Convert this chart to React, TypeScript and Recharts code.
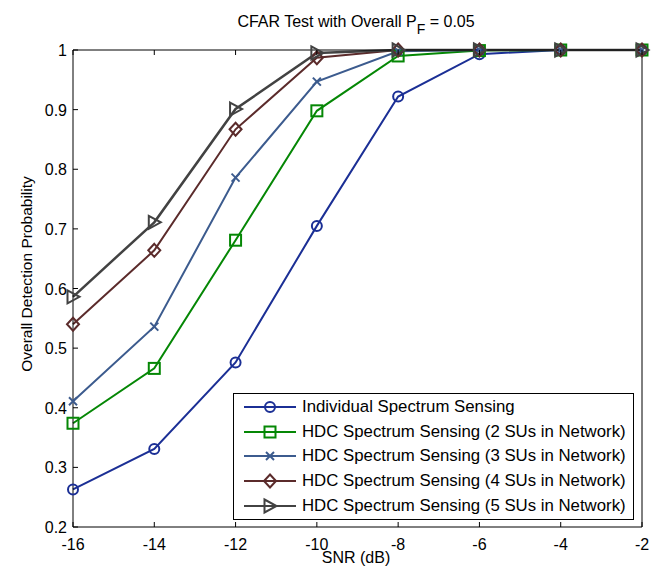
import React from "react";
import { LineChart, Line, XAxis, YAxis } from "recharts";

const snr = [-16, -14, -12, -10, -8, -6, -4, -2];
const individual = [0.263, 0.331, 0.476, 0.705, 0.922, 0.993, 1.0, 1.0];
const hdc2 = [0.374, 0.466, 0.681, 0.898, 0.99, 0.999, 1.0, 1.0];
const hdc3 = [0.411, 0.536, 0.786, 0.947, 0.998, 1.0, 1.0, 1.0];
const hdc4 = [0.54, 0.664, 0.867, 0.987, 1.0, 1.0, 1.0, 1.0];
const hdc5 = [0.586, 0.711, 0.901, 0.995, 1.0, 1.0, 1.0, 1.0];
const yTicks = [0.2, 0.3, 0.4, 0.5, 0.6, 0.7, 0.8, 0.9, 1.0];

const seriesNames = [
  "Individual Spectrum Sensing",
  "HDC Spectrum Sensing (2 SUs in Network)",
  "HDC Spectrum Sensing (3 SUs in Network)",
  "HDC Spectrum Sensing (4 SUs in Network)",
  "HDC Spectrum Sensing (5 SUs in Network)",
];

const data = snr.map((s, i) => ({
  snr: s,
  s1: individual[i],
  s2: hdc2[i],
  s3: hdc3[i],
  s4: hdc4[i],
  s5: hdc5[i],
}));

type Shape = "circle" | "square" | "cross" | "diamond" | "triangle";

const series: { key: string; color: string; shape: Shape; name: string; width: number }[] = [
  { key: "s1", color: "#1b2f95", shape: "circle", name: seriesNames[0], width: 2 },
  { key: "s2", color: "#058705", shape: "square", name: seriesNames[1], width: 2 },
  { key: "s3", color: "#3c5b8e", shape: "cross", name: seriesNames[2], width: 2 },
  { key: "s4", color: "#5b2b2b", shape: "diamond", name: seriesNames[3], width: 2 },
  { key: "s5", color: "#424242", shape: "triangle", name: seriesNames[4], width: 2.5 },
];

const FONT = "'Liberation Sans', Arial, Helvetica, sans-serif";

function Marker({ shape, cx, cy, color }: { shape: Shape; cx: number; cy: number; color: string }) {
  const sw = 2;
  switch (shape) {
    case "circle":
      return <circle cx={cx} cy={cy} r={5} fill="none" stroke={color} strokeWidth={sw} />;
    case "square":
      return <rect x={cx - 5.5} y={cy - 5.5} width={11} height={11} fill="none" stroke={color} strokeWidth={sw} />;
    case "cross":
      return (
        <g stroke={color} strokeWidth={sw}>
          <line x1={cx - 4} y1={cy - 4} x2={cx + 4} y2={cy + 4} />
          <line x1={cx - 4} y1={cy + 4} x2={cx + 4} y2={cy - 4} />
        </g>
      );
    case "diamond":
      return (
        <polygon
          points={`${cx},${cy - 6.5} ${cx + 6},${cy} ${cx},${cy + 6.5} ${cx - 6},${cy}`}
          fill="none"
          stroke={color}
          strokeWidth={sw}
        />
      );
    case "triangle":
      return (
        <polygon
          points={`${cx - 5.5},${cy - 6.5} ${cx + 6.5},${cy} ${cx - 5.5},${cy + 6.5}`}
          fill="none"
          stroke={color}
          strokeWidth={sw}
        />
      );
  }
  return null;
}

const makeDot = (shape: Shape, color: string) => (props: any) => {
  const { cx, cy, index } = props;
  if (cx == null || cy == null) return <g key={`d-${index}`} />;
  return (
    <g key={`d-${shape}-${index}`}>
      <Marker shape={shape} cx={cx} cy={cy} color={color} />
    </g>
  );
};

const BottomTick = (props: any) => {
  const { x, y, payload } = props;
  return (
    <g>
      <line x1={x} y1={y} x2={x} y2={y - 5} stroke="#000" strokeWidth={1} />
      <text x={x} y={y + 23} textAnchor="middle" fontSize={16} fontFamily={FONT} fill="#000">
        {payload.value}
      </text>
    </g>
  );
};

const TopTick = (props: any) => {
  const { x, y } = props;
  return <line x1={x} y1={y} x2={x} y2={y + 5} stroke="#000" strokeWidth={1} />;
};

const LeftTick = (props: any) => {
  const { x, y, payload } = props;
  const v = payload.value;
  const label = Math.abs(v - 1) < 1e-9 ? "1" : Number(v).toFixed(1);
  return (
    <g>
      <line x1={x} y1={y} x2={x + 5} y2={y} stroke="#000" strokeWidth={1} />
      <text x={x - 6} y={y + 6} textAnchor="end" fontSize={16} fontFamily={FONT} fill="#000">
        {label}
      </text>
    </g>
  );
};

const RightTick = (props: any) => {
  const { x, y } = props;
  return <line x1={x} y1={y} x2={x - 5} y2={y} stroke="#000" strokeWidth={1} />;
};

function Legend() {
  return (
    <div
      style={{
        position: "absolute",
        left: 233,
        top: 393,
        width: 399,
        height: 124,
        border: "1px solid #000",
        background: "#fff",
        fontFamily: FONT,
        fontSize: 16.8,
        paddingTop: 1,
        boxSizing: "content-box",
      }}
    >
      {series.map((s) => (
        <div key={s.key} style={{ display: "flex", alignItems: "center", height: 24.6 }}>
          <svg width={54} height={20} style={{ marginLeft: 9, marginRight: 5, flex: "none" }}>
            <line x1={1} y1={10} x2={53} y2={10} stroke={s.color} strokeWidth={2} />
            <Marker shape={s.shape} cx={27} cy={10} color={s.color} />
          </svg>
          <span style={{ whiteSpace: "nowrap", color: "#000" }}>{s.name}</span>
        </div>
      ))}
    </div>
  );
}

export default function App() {
  return (
    <div
      style={{
        position: "absolute",
        left: 0,
        top: 0,
        width: 659,
        height: 568,
        background: "#fff",
        fontFamily: FONT,
      }}
    >
      <LineChart
        width={659}
        height={568}
        data={data}
        margin={{ top: 49, right: 16, bottom: 40, left: 72 }}
      >
        <XAxis
          dataKey="snr"
          type="number"
          domain={[-16, -2]}
          ticks={snr}
          interval={0}
          height={1}
          tickSize={0}
          tickMargin={0}
          tick={<BottomTick />}
          axisLine={{ stroke: "#000", strokeWidth: 1 }}
          tickLine={false}
        />
        <XAxis
          xAxisId="top"
          orientation="top"
          dataKey="snr"
          type="number"
          domain={[-16, -2]}
          ticks={snr}
          interval={0}
          height={1}
          tickSize={0}
          tickMargin={0}
          tick={<TopTick />}
          axisLine={{ stroke: "#000", strokeWidth: 1 }}
          tickLine={false}
        />
        <YAxis
          type="number"
          domain={[0.2, 1]}
          ticks={yTicks}
          interval={0}
          width={1}
          tickSize={0}
          tickMargin={0}
          tick={<LeftTick />}
          axisLine={{ stroke: "#000", strokeWidth: 1 }}
          tickLine={false}
        />
        <YAxis
          yAxisId="right"
          orientation="right"
          type="number"
          domain={[0.2, 1]}
          ticks={yTicks}
          interval={0}
          width={1}
          tickSize={0}
          tickMargin={0}
          tick={<RightTick />}
          axisLine={{ stroke: "#000", strokeWidth: 1 }}
          tickLine={false}
        />
        {series.map((s) => (
          <Line
            key={s.key}
            dataKey={s.key}
            name={s.name}
            type="linear"
            stroke={s.color}
            strokeWidth={s.width}
            dot={makeDot(s.shape, s.color)}
            activeDot={false}
            isAnimationActive={false}
          />
        ))}
      </LineChart>
      <svg
        width={659}
        height={568}
        style={{ position: "absolute", left: 0, top: 0, pointerEvents: "none" }}
      >
        <text x={356} y={27} textAnchor="middle" fontSize={16} fontFamily={FONT} fill="#000">
          CFAR Test with Overall P
          <tspan dy={7} fontSize={14}>F</tspan>
          <tspan dy={-7}> = 0.05</tspan>
        </text>
        <text x={356} y={563} textAnchor="middle" fontSize={16} fontFamily={FONT} fill="#000">
          SNR (dB)
        </text>
        <text
          x={0}
          y={0}
          transform="translate(32,274) rotate(-90)"
          textAnchor="middle"
          fontSize={15.5}
          fontFamily={FONT}
          fill="#000"
        >
          Overall Detection Probability
        </text>
      </svg>
      <Legend />
    </div>
  );
}
